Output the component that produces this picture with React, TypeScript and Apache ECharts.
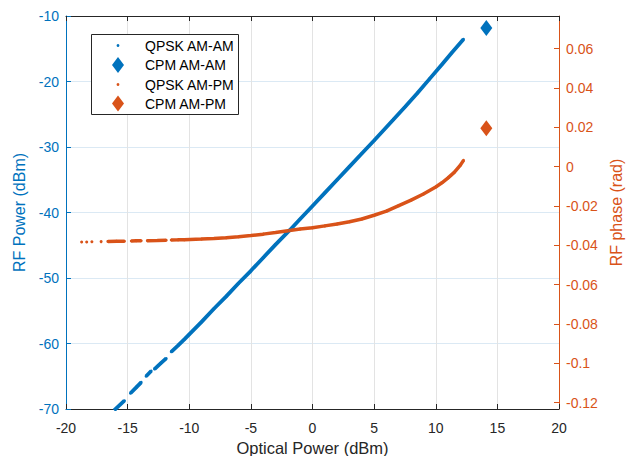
import React, { useEffect, useRef } from "react";
import * as echarts from "echarts";

const BLUE = "#0072BD";
const ORANGE = "#D95319";
const DARK = "#262626";
const FONT = "'Liberation Sans', Arial, Helvetica, sans-serif";

// QPSK AM-AM (optical power dBm -> RF power dBm); null = gap between sample clusters
const amamX: (number | null)[] = [-16.1, -15.26, null, -14.77, -14.3, -13.9, null, -13.5, -13.09, null, -12.82, -12.3, -11.87, null, -11.46, -10.9, -10.38, -10.0, -9.0, -8.0, -7.0, -6.0, -5.0, -4.0, -3.0, -1.85, -1.0, 0.0, 1.0, 2.0, 3.0, 4.0, 5.0, 6.55, 7.5, 8.5, 9.5, 10.5, 11.3, 12.25];
const amamY: (number | null)[] = [-70.2, -68.73, null, -67.6, -66.7, -65.93, null, -65.0, -64.2, null, -63.9, -63.0, -62.28, null, -61.27, -60.3, -59.34, -58.6, -56.7, -54.7, -52.8, -50.8, -48.9, -46.9, -44.9, -42.7, -41.0, -39.0, -37.0, -35.0, -33.0, -31.0, -29.0, -25.84, -23.9, -21.8, -19.6, -17.4, -15.6, -13.55];

// QPSK AM-PM (optical power dBm -> RF phase rad)
const ampmX: (number | null)[] = [-18.73, null, -18.32, null, -17.9, null, -17.15, null, -16.6, -15.9, -15.26, null, -14.7, -14.3, -13.9, null, -13.4, -12.6, -11.87, null, -11.46, -10.9, -10.4, -9.0, -8.0, -7.0, -6.0, -5.0, -4.0, -3.0, -1.85, -1.0, 0.0, 1.0, 2.0, 3.0, 4.0, 5.0, 6.0, 7.0, 8.0, 9.0, 10.0, 10.5, 11.0, 11.5, 12.0, 12.25];
const ampmY: (number | null)[] = [-0.0383, null, -0.0383, null, -0.0382, null, -0.0381, null, -0.038, -0.0379, -0.0379, null, -0.0378, -0.0377, -0.0377, null, -0.0376, -0.0375, -0.0374, null, -0.0373, -0.0372, -0.0371, -0.0368, -0.0365, -0.0361, -0.0356, -0.035, -0.0343, -0.0335, -0.0324, -0.0317, -0.031, -0.0301, -0.0291, -0.028, -0.0266, -0.0247, -0.0226, -0.0198, -0.017, -0.0139, -0.0103, -0.0082, -0.0057, -0.0029, 0.0008, 0.0032];

// CPM single measurements
const cpmX = [14.1];
const cpmAmam = [-11.85];
const cpmAmpm = [0.0195];

const xTicks = { min: -20, max: 20, interval: 5 };
const leftTicks = { min: -70, max: -10, interval: 10 };
const rightRange = { min: -0.1232, max: 0.0766 };
const rightTickValues = [-0.12, -0.1, -0.08, -0.06, -0.04, -0.02, 0, 0.02, 0.04, 0.06];

const legendLabels = ["QPSK AM-AM", "CPM AM-AM", "QPSK AM-PM", "CPM AM-PM"];

function pair(xs: (number | null)[], ys: (number | null)[]) {
  return xs.map((x, i) => (x === null || ys[i] === null ? [null, null] : [x, ys[i]]));
}

export default function App() {
  const ref = useRef<HTMLDivElement>(null);
  useEffect(() => {
    if (!ref.current) return;
    const chart = echarts.init(ref.current, undefined, { renderer: "svg" });

    const lx = 118;
    const rows = [45.5, 65, 84.5, 103.5];
    const legendGraphics: any[] = [
      {
        type: "rect",
        shape: { x: 91.5, y: 34.5, width: 147, height: 80 },
        style: { fill: "#ffffff", stroke: DARK, lineWidth: 1 },
        z: 100,
      },
      { type: "circle", shape: { cx: lx, cy: rows[0], r: 1.4 }, style: { fill: BLUE }, z: 101 },
      {
        type: "polygon",
        shape: { points: [[lx, rows[1] - 8], [lx + 6, rows[1]], [lx, rows[1] + 8], [lx - 6, rows[1]]] },
        style: { fill: BLUE },
        z: 101,
      },
      { type: "circle", shape: { cx: lx, cy: rows[2], r: 1.4 }, style: { fill: ORANGE }, z: 101 },
      {
        type: "polygon",
        shape: { points: [[lx, rows[3] - 8], [lx + 6, rows[3]], [lx, rows[3] + 8], [lx - 6, rows[3]]] },
        style: { fill: ORANGE },
        z: 101,
      },
      ...legendLabels.map((t, i) => ({
        type: "text",
        x: 145,
        y: rows[i],
        style: { text: t, fill: "#000", font: `14px ${FONT}`, textVerticalAlign: "middle", textAlign: "left" },
        z: 101,
      })),
    ];

    chart.setOption({
      animation: false,
      backgroundColor: "#ffffff",
      grid: { left: 66, right: 80, top: 16, bottom: 47, outerBoundsMode: "none", containLabel: false },
      xAxis: [
        {
          type: "value",
          ...xTicks,
          name: "Optical Power (dBm)",
          nameLocation: "middle",
          nameGap: 25,
          nameTextStyle: { color: DARK, fontSize: 16.5, fontFamily: FONT },
          axisLine: { show: true, onZero: false, lineStyle: { color: DARK, width: 1 } },
          axisTick: { show: true, inside: true, length: 5, lineStyle: { color: DARK } },
          axisLabel: { color: DARK, fontSize: 14, fontFamily: FONT, margin: 12 },
          splitLine: { show: true, lineStyle: { color: "#e3e3e3", width: 1 } },
        },
        {
          type: "value",
          ...xTicks,
          position: "top",
          axisLine: { show: true, onZero: false, lineStyle: { color: DARK, width: 1 } },
          axisTick: { show: true, inside: true, length: 5, lineStyle: { color: DARK } },
          axisLabel: { show: false },
          splitLine: { show: false },
        },
      ],
      yAxis: [
        {
          type: "value",
          ...leftTicks,
          position: "left",
          name: "RF Power (dBm)",
          nameLocation: "middle",
          nameGap: 31,
          nameRotate: 90,
          nameTextStyle: { color: BLUE, fontSize: 16, fontFamily: FONT },
          axisLine: { show: true, onZero: false, lineStyle: { color: BLUE, width: 1 } },
          axisTick: { show: true, inside: true, length: 5, lineStyle: { color: BLUE } },
          axisLabel: { color: BLUE, fontSize: 14, fontFamily: FONT, margin: 7 },
          splitLine: { show: true, lineStyle: { color: "#dbe9f4", width: 1 } },
        },
        {
          type: "value",
          ...rightRange,
          position: "right",
          name: "RF phase (rad)",
          nameLocation: "middle",
          nameGap: 46,
          nameRotate: 90,
          nameTextStyle: { color: ORANGE, fontSize: 16, fontFamily: FONT },
          axisLine: { show: true, onZero: false, lineStyle: { color: ORANGE, width: 1 } },
          axisTick: { show: true, inside: true, length: 5, lineStyle: { color: ORANGE }, customValues: rightTickValues },
          axisLabel: {
            color: ORANGE,
            fontSize: 14,
            fontFamily: FONT,
            margin: 7,
            customValues: rightTickValues,
            formatter: (v: number) => String(+v.toFixed(2)),
          },
          splitLine: { show: false },
        },
      ],
      series: [
        {
          name: legendLabels[0],
          type: "line",
          xAxisIndex: 0,
          yAxisIndex: 0,
          data: pair(amamX, amamY),
          symbol: "circle",
          symbolSize: 3,
          showSymbol: true,
          connectNulls: false,
          lineStyle: { color: BLUE, width: 3.8 },
          itemStyle: { color: BLUE, opacity: 1 },
          z: 3,
        },
        {
          name: legendLabels[1],
          type: "scatter",
          xAxisIndex: 0,
          yAxisIndex: 0,
          data: cpmX.map((x, i) => [x, cpmAmam[i]]),
          symbol: "diamond",
          symbolSize: [12, 16],
          itemStyle: { color: BLUE, opacity: 1 },
          z: 4,
        },
        {
          name: legendLabels[2],
          type: "line",
          xAxisIndex: 0,
          yAxisIndex: 1,
          data: pair(ampmX, ampmY),
          symbol: "circle",
          symbolSize: 3,
          showSymbol: true,
          connectNulls: false,
          lineStyle: { color: ORANGE, width: 3.5 },
          itemStyle: { color: ORANGE, opacity: 1 },
          z: 3,
        },
        {
          name: legendLabels[3],
          type: "scatter",
          xAxisIndex: 0,
          yAxisIndex: 1,
          data: cpmX.map((x, i) => [x, cpmAmpm[i]]),
          symbol: "diamond",
          symbolSize: [12, 16],
          itemStyle: { color: ORANGE, opacity: 1 },
          z: 4,
        },
      ],
      graphic: legendGraphics,
    });
    return () => chart.dispose();
  }, []);
  return <div ref={ref} style={{ width: 639, height: 456, position: "absolute", left: 0, top: 0 }} />;
}
